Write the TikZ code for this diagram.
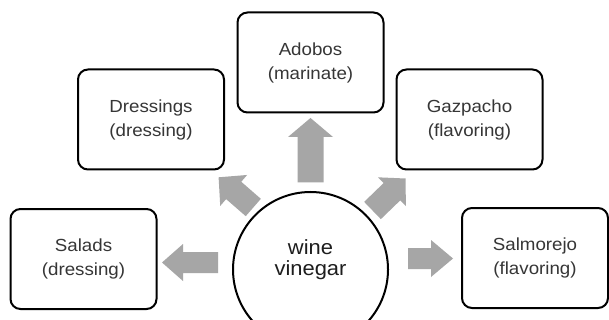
\documentclass[tikz,border=0pt]{standalone}
\usepackage{fontspec}
\setmainfont{Liberation Sans}[FakeStretch=1.07]
\usetikzlibrary{calc}
\definecolor{boxtext}{HTML}{363636}
\definecolor{hubtext}{HTML}{1E1E1E}
\definecolor{arrowfill}{HTML}{A6A6A6}
\newcommand\blockarr[5]{% tail, tip, half shaft, half head, head length
  \coordinate (hb) at ($(#2)!#5!(#1)$);
  \fill[arrowfill] ($(#1)!#3!90:(#2)$) -- ($(hb)!#3!90:(#2)$) -- ($(hb)!#4!90:(#2)$)
    -- (#2) -- ($(hb)!#4!-90:(#2)$) -- ($(hb)!#3!-90:(#2)$) -- ($(#1)!#3!-90:(#2)$) -- cycle;
}
\tikzset{
  usebox/.style={draw=black, line width=2pt, rounded corners=10pt, fill=white,
    minimum width=146pt, minimum height=100pt, align=center, text=boxtext,
    font=\fontsize{17.5}{24}\selectfont, inner sep=0pt},
  hub/.style={draw=black, line width=2pt, circle, minimum size=155pt, inner sep=0pt},
  hubtxt/.style={align=center, text=hubtext, font=\fontsize{20.5}{21}\selectfont, inner sep=0pt}
}
\begin{document}
\begin{tikzpicture}[x=1pt,y=-1pt]
\useasboundingbox (0,0) rectangle (609,320);
\clip (0,0) rectangle (609,320);
\fill[white] (0,0) rectangle (609,320);
% nodes
\node[usebox] (adobos) at (310.5,62.5) {Adobos\\(marinate)};
\node[usebox] (dress) at (151,119.5) {Dressings\\(dressing)};
\node[usebox] (gazp) at (469.5,119.5) {Gazpacho\\(flavoring)};
\node[usebox] (salads) at (83.5,259) {Salads\\(dressing)};
\node[usebox] (salmo) at (535,258) {Salmorejo\\(flavoring)};
\node[hub] (hub) at (310.5,269.5) {};
\node[hubtxt] (hubt) at (310.5,259.5) {wine\\vinegar};
% arrow anchors
\coordinate (uT) at (310.5,182.5);  \coordinate (uH) at (310.5,118);
\coordinate (lT) at (218,262.5);    \coordinate (lH) at (162,262.5);
\coordinate (rT) at (408,258.5);    \coordinate (rH) at (453,258.5);
\coordinate (ulT) at (253.3,207.5); \coordinate (ulH) at (218.6,177.3);
\coordinate (urT) at (372.5,210.5); \coordinate (urH) at (405.6,178.5);
% block arrows
\blockarr{uT}{uH}{13pt}{22.5pt}{19pt}
\blockarr{lT}{lH}{10.5pt}{18.5pt}{21pt}
\blockarr{rT}{rH}{10.5pt}{18.5pt}{22pt}
\blockarr{ulT}{ulH}{11.5pt}{20.5pt}{20pt}
\blockarr{urT}{urH}{12pt}{20pt}{19pt}
\end{tikzpicture}
\end{document}
